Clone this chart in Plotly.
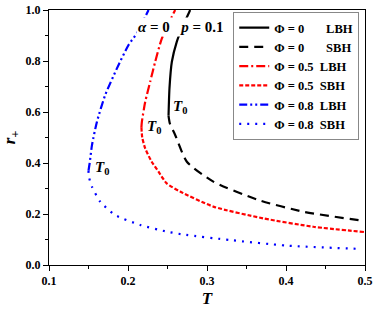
import plotly.graph_objects as go

# ---- data ----
T_p0_lbh = [0.2513, 0.2525, 0.2555, 0.2618, 0.2682, 0.2787]
r_p0_lbh = [0.585, 0.693, 0.797, 0.876, 0.928, 1.0]
T_p0_sbh = [0.2513, 0.2530, 0.2597, 0.2745, 0.308, 0.365, 0.422, 0.496]
r_p0_sbh = [0.585, 0.555, 0.51, 0.405, 0.327, 0.255, 0.209, 0.174]

T_p5_lbh = [0.2170, 0.2176, 0.2218, 0.2281, 0.2344, 0.2429, 0.2597]
r_p5_lbh = [0.54, 0.562, 0.64, 0.719, 0.797, 0.889, 1.0]
T_p5_sbh = [0.2170, 0.2180, 0.2218, 0.2300, 0.2386, 0.249, 0.266, 0.308, 0.371, 0.4346, 0.5]
r_p5_sbh = [0.54, 0.50, 0.457, 0.405, 0.366, 0.32, 0.288, 0.229, 0.183, 0.150, 0.129]

T_p8_lbh = [0.1500, 0.1515, 0.1544, 0.1607, 0.1712, 0.186, 0.2007, 0.2113, 0.226]
r_p8_lbh = [0.37, 0.40, 0.47, 0.562, 0.667, 0.771, 0.863, 0.909, 1.0]
T_p8_sbh = [0.1500, 0.1505, 0.1544, 0.1649, 0.1838, 0.2155, 0.2492, 0.2735, 0.329, 0.401, 0.494]
r_p8_sbh = [0.37, 0.346, 0.307, 0.248, 0.196, 0.157, 0.131, 0.118, 0.098, 0.076, 0.063]

names = ["\u03a6 = 0\u00a0\u00a0\u00a0\u00a0\u00a0\u00a0\u00a0LBH",
         "\u03a6 = 0\u00a0\u00a0\u00a0\u00a0\u00a0\u00a0\u00a0SBH",
         "\u03a6 = 0.5\u00a0\u00a0LBH",
         "\u03a6 = 0.5\u00a0\u00a0SBH",
         "\u03a6 = 0.8\u00a0\u00a0LBH",
         "\u03a6 = 0.8\u00a0\u00a0SBH"]

x_ticks = [0.1, 0.2, 0.3, 0.4, 0.5]
y_ticks = [0.0, 0.2, 0.4, 0.6, 0.8, 1.0]

FONT = "Liberation Serif"

series = [
    (T_p0_lbh, r_p0_lbh, "black", "solid"),
    (T_p0_sbh, r_p0_sbh, "black", "9px,6px"),
    (T_p5_lbh, r_p5_lbh, "red", "9px,3px,2px,3px"),
    (T_p5_sbh, r_p5_sbh, "red", "4px,2px"),
    (T_p8_lbh, r_p8_lbh, "blue", "8px,3px,2px,3px,2px,3px"),
    (T_p8_sbh, r_p8_sbh, "blue", "2px,6px"),
]

fig = go.Figure()
for (xs, ys, col, dash), nm in zip(series, names):
    fig.add_trace(go.Scatter(
        x=xs, y=ys, mode="lines", name="<b>" + nm + "</b>",
        line=dict(color=col, width=2.2, dash=dash, shape="spline", smoothing=0.6),
    ))

axis_common = dict(
    showgrid=False, zeroline=False, showline=True, linecolor="black", linewidth=1,
    mirror=True, ticks="outside", ticklen=5, tickwidth=1, tickcolor="black",
    tickfont=dict(family=FONT, size=12, color="black"), automargin=False,
)
fig.update_xaxes(range=[0.1, 0.5], tickvals=x_ticks, ticktext=[f"<b>{v:.1f}</b>" for v in x_ticks],
                 minor=dict(dtick=0.05, ticks="outside", ticklen=3, tickcolor="black"),
                 title=dict(text="<b><i>T</i></b>", font=dict(family=FONT, size=17, color="black"), standoff=4),
                 **axis_common)
fig.update_yaxes(range=[0, 1.0], tickvals=y_ticks, ticktext=[f"<b>{v:.1f}</b>" for v in y_ticks],
                 minor=dict(dtick=0.1, ticks="outside", ticklen=3, tickcolor="black"),
                 title=dict(text="<b><i>r</i><sub>+</sub></b>", font=dict(family=FONT, size=17, color="black"), standoff=6),
                 **axis_common)

ann_font = dict(family=FONT, size=15, color="black")
fig.add_annotation(x=0.2667, y=0.933, xref="x", yref="y", showarrow=False,
                   text="<b><i>\u03b1</i> = 0\u00a0\u00a0\u00a0<i>p</i> = 0.1</b>", font=ann_font,
                   bgcolor="white", borderpad=1)
fig.add_annotation(x=0.266, y=0.62, xref="x", yref="y", showarrow=False,
                   text="<b><i>T</i><sub>0</sub></b>", font=ann_font)
fig.add_annotation(x=0.2323, y=0.542, xref="x", yref="y", showarrow=False,
                   text="<b><i>T</i><sub>0</sub></b>", font=ann_font)
fig.add_annotation(x=0.167, y=0.379, xref="x", yref="y", showarrow=False,
                   text="<b><i>T</i><sub>0</sub></b>", font=ann_font)

fig.update_layout(
    width=374, height=310,
    margin=dict(l=49, r=9, t=10, b=45, autoexpand=False),
    paper_bgcolor="white", plot_bgcolor="white",
    showlegend=True,
    legend=dict(x=0.583, y=0.992, xanchor="left", yanchor="top",
                bordercolor="#888888", borderwidth=1, bgcolor="white",
                font=dict(family=FONT, size=12.5, color="black"),
                itemwidth=30, tracegroupgap=0),
)

# the default page body has an 8px margin; remove it so the figure sits at (0,0)
fig.write_html("out.html", config={"displayModeBar": False},
               post_script="document.body.style.margin='0';")
